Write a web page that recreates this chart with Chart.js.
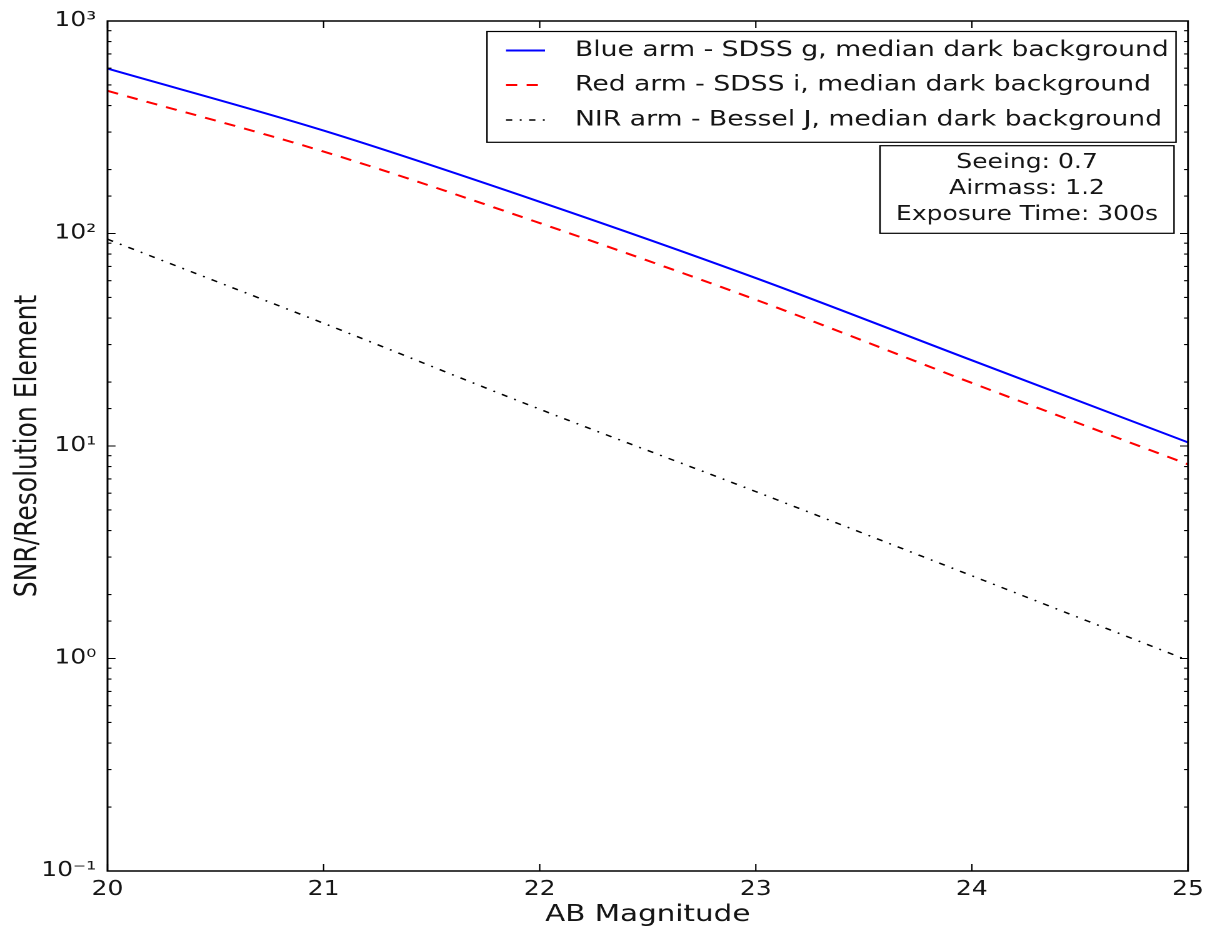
<!DOCTYPE html>
<html>
<head>
<meta charset="utf-8">
<title>SNR vs AB Magnitude</title>
<script src="https://cdn.jsdelivr.net/npm/chart.js@4.4.1/dist/chart.umd.min.js"></script>
<style>
  html, body { margin: 0; padding: 0; background: #fff; }
  canvas { display: block; }
</style>
</head>
<body>
<!-- drawn narrow and widened by CSS, like the wide-aspect export of the plot -->
<canvas id="snr-chart" width="972" height="934" style="width:1215px;height:934px"></canvas>
<script>
// ===== SNR per resolution element vs AB magnitude =====
var magnitudes = [20, 21, 22, 23, 24, 25];
var blueSnr = [597, 305, 141, 61.7, 25.3, 10.4];
var redSnr  = [469, 243, 112, 48.8, 19.8, 8.2];
var nirSnr  = [94, 37.8, 14.9, 6.1, 2.45, 0.98];

var seriesLabels = [
  'Blue arm - SDSS g, median dark background',
  'Red arm - SDSS i, median dark background',
  'NIR arm - Bessel J, median dark background'
];
var infoLines = ['Seeing: 0.7', 'Airmass: 1.2', 'Exposure Time: 300s'];
var superDigits = { '-': '⁻', '0': '⁰', '1': '¹', '2': '²', '3': '³' };

var FONT = 'DejaVu Sans';
var TEXT = '#151515';

function points(ys) {
  return magnitudes.map(function(m, i) { return { x: m, y: ys[i] }; });
}
function isDecade(v) {
  var l = Math.log10(v);
  return Math.abs(l - Math.round(l)) < 1e-9;
}
function decadeLabel(v) {
  var e = String(Math.round(Math.log10(v)));
  return '10' + e.split('').map(function(c) { return superDigits[c]; }).join('');
}

// inward ticks on all four sides + the axes frame
var frameTicks = {
  id: 'frameTicks',
  afterDatasetsDraw: function(chart) {
    var ctx = chart.ctx, a = chart.chartArea;
    var xs = chart.scales.x, ys = chart.scales.y;
    ctx.save();
    ctx.strokeStyle = '#000';
    ctx.lineWidth = 1.1;
    ctx.beginPath();
    ys.ticks.forEach(function(t) {
      var y = ys.getPixelForValue(t.value);
      var len = isDecade(t.value) ? 6.4 : 3.2;
      ctx.moveTo(a.left, y); ctx.lineTo(a.left + len, y);
      ctx.moveTo(a.right, y); ctx.lineTo(a.right - len, y);
    });
    xs.ticks.forEach(function(t) {
      var x = xs.getPixelForValue(t.value);
      ctx.moveTo(x, a.bottom); ctx.lineTo(x, a.bottom - 7);
      ctx.moveTo(x, a.top); ctx.lineTo(x, a.top + 7);
    });
    ctx.stroke();
    ctx.lineWidth = 1.5;
    ctx.strokeRect(a.left, a.top, a.right - a.left, a.bottom - a.top);
    ctx.restore();
  }
};

// legend box and the observing-conditions box in the upper right
var boxes = {
  id: 'boxes',
  afterDraw: function(chart) {
    var ctx = chart.ctx, a = chart.chartArea;
    ctx.save();
    ctx.textBaseline = 'middle';

    var lx = 389.6, ly = 31.5, lw = a.right - 9.6 - lx, lh = 110.8;
    ctx.fillStyle = '#fff';
    ctx.fillRect(lx, ly, lw, lh);
    ctx.strokeStyle = '#000';
    ctx.lineWidth = 1.2;
    ctx.strokeRect(lx, ly, lw, lh);

    var rows = [50.5, 85, 120];
    ctx.font = '21.3px "' + FONT + '"';
    chart.data.datasets.forEach(function(ds, i) {
      ctx.beginPath();
      ctx.setLineDash(ds.borderDash || []);
      ctx.strokeStyle = ds.borderColor;
      ctx.lineWidth = ds.borderWidth;
      ctx.moveTo(404.8, rows[i]);
      ctx.lineTo(436, rows[i]);
      ctx.stroke();
      ctx.setLineDash([]);
      ctx.fillStyle = TEXT;
      ctx.textAlign = 'left';
      ctx.fillText(ds.label, 460, rows[i]);
    });

    var bx = 704, by = 145.7, bw = a.right - 11.2 - bx, bh = 87.6;
    ctx.fillStyle = '#fff';
    ctx.fillRect(bx, by, bw, bh);
    ctx.strokeStyle = '#000';
    ctx.lineWidth = 1.2;
    ctx.strokeRect(bx, by, bw, bh);
    ctx.font = '20px "' + FONT + '"';
    ctx.fillStyle = TEXT;
    ctx.textAlign = 'center';
    infoLines.forEach(function(t, i) {
      ctx.fillText(t, bx + bw / 2, 163 + i * 26);
    });
    ctx.restore();
  }
};

new Chart(document.getElementById('snr-chart'), {
  type: 'line',
  data: {
    datasets: [
      { label: seriesLabels[0], data: points(blueSnr), borderColor: '#0000ff', borderWidth: 2, borderDash: [] },
      { label: seriesLabels[1], data: points(redSnr), borderColor: '#ff0000', borderWidth: 2, borderDash: [9, 7.5] },
      { label: seriesLabels[2], data: points(nirSnr), borderColor: '#000000', borderWidth: 1.5, borderDash: [5, 6, 1.5, 6] }
    ]
  },
  options: {
    responsive: false,
    devicePixelRatio: 2,
    animation: false,
    layout: { padding: { left: 0, top: 19, right: 21.6, bottom: 0 } },
    elements: {
      point: { radius: 0 },
      line: { cubicInterpolationMode: 'monotone', fill: false }
    },
    plugins: { legend: { display: false }, tooltip: { enabled: false } },
    scales: {
      x: {
        type: 'linear', min: 20, max: 25,
        grid: { display: false, drawTicks: false },
        border: { display: false },
        ticks: { stepSize: 1, padding: 7, color: TEXT, font: { family: FONT, size: 20 } },
        title: { display: true, text: 'AB Magnitude', color: TEXT, font: { family: FONT, size: 23.5 }, padding: { top: 0, bottom: 5 } },
        afterFit: function(s) { s.height = 63; }
      },
      y: {
        type: 'logarithmic', min: 0.1, max: 1000,
        grid: { display: false, drawTicks: false },
        border: { display: false },
        ticks: {
          autoSkip: false, padding: 9, color: TEXT, font: { family: FONT, size: 20 },
          callback: function(v) { return isDecade(v) ? decadeLabel(v) : ''; }
        },
        title: { display: true, text: 'SNR/Resolution Element', color: TEXT, font: { family: FONT, size: 25 }, padding: { top: 7.4, bottom: 0 } },
        afterFit: function(s) { s.width = 86; }
      }
    }
  },
  plugins: [frameTicks, boxes]
});
</script>
</body>
</html>
